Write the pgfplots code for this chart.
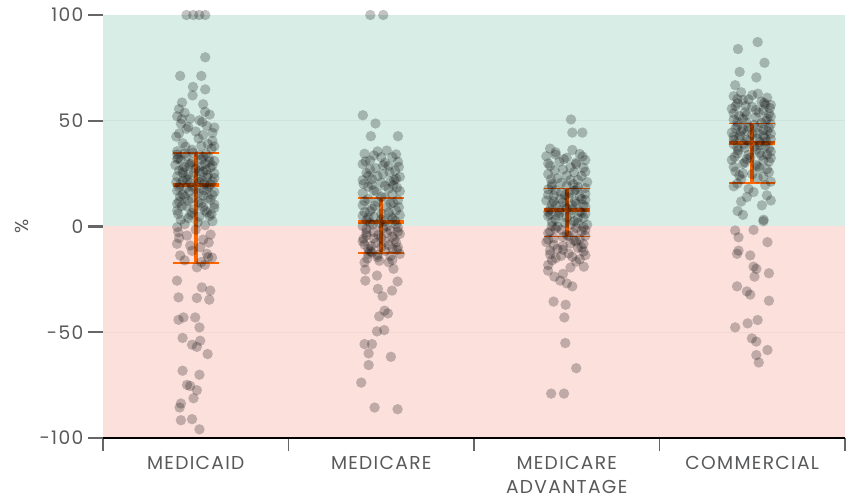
\documentclass[border=0pt]{standalone}
\usepackage{fontspec}
\setmainfont{Poppins}
\newfontfamily\labelfont[LetterSpace=7]{Poppins}
\usepackage{pgfplots}
\pgfplotsset{compat=1.18}
\definecolor{bggreen}{RGB}{215,237,230}
\definecolor{bgpink}{RGB}{252,224,220}
\definecolor{barorange}{RGB}{255,102,0}
\definecolor{txtgray}{RGB}{88,89,91}
\definecolor{tickgray}{RGB}{102,102,102}
\begin{document}
\begin{tikzpicture}
\begin{axis}[
  scale only axis,
  width=556.5pt, height=317.25pt,
  xmin=-0.5, xmax=3.5, ymin=-100, ymax=100,
  clip=false, axis on top,
  axis lines*=left,
  y axis line style={draw=none},
  x axis line style={black, line width=2pt},
  tick align=outside,
  xtick={0,1,2,3},
  xticklabels={MEDICAID,MEDICARE,{MEDICARE\\ADVANTAGE},COMMERCIAL},
  minor xtick={-0.5,0.5,1.5,2.5,3.5},
  major x tick style={draw=none},
  minor x tick style={tickgray, line width=0.8pt},
  minor tick length=9.75pt,
  major tick length=11.25pt,
  major y tick style={tickgray, line width=1.6pt},
  ytick={-100,-50,0,50,100},
  yticklabels={-100,-50,0,50,100},
  yticklabel style={font=\labelfont\fontsize{14}{16}\selectfont, text=txtgray},
  xticklabel style={font=\labelfont\fontsize{14}{18}\selectfont, text=txtgray, align=center, anchor=north, yshift=1pt},
  ylabel={\%},
  ylabel style={at={(axis description cs:-0.109,0.5)}, anchor=center, font=\fontsize{14}{16}\selectfont, text=txtgray},
]
% backgrounds
\addplot[no markers, fill=bggreen, draw=none] coordinates {(-0.5,100) (3.5,100)} \closedcycle;
\addplot[no markers, fill=bgpink, draw=none] coordinates {(-0.5,-100) (3.5,-100)} \closedcycle;
\addplot[no markers, black, opacity=0.04, line width=1pt] coordinates {(-0.5,50) (3.5,50)};
\addplot[no markers, black, opacity=0.04, line width=1pt] coordinates {(-0.5,-50) (3.5,-50)};
% points
\addplot[only marks, mark=*, mark size=3.9pt, color=black, mark options={solid, fill=black, fill opacity=0.24, draw opacity=0}] coordinates {
% MEDICAID
(-0.05,100) (-0.013,100) (0.019,100) (0.051,100)
(0.051,80.0) (-0.084,71.2) (0.03,71.2) (-0.015,66) (0.051,64.8) (-0.017,62) (-0.074,58.6) (0.04,57.8)
(-0.09,55.5) (-0.06,53.8) (0.05,54.2) (-0.10,52.1) (0.075,52.9) (-0.03,51) (0.02,50.2) (-0.08,48.6) (0.06,47.5) (-0.05,46.2) (0.1,46.8) (0.0,44.9) (-0.09,44) (0.04,43.2) (0.09,40.5) (-0.07,39.4) (0.03,38.2) (-0.02,36.3) (0.085,36.8) (-0.10,35.6)
(-0.1,34.1) (-0.05,33.2) (0.02,33.8) (0.07,32.6) (-0.08,31.5) (0.1,31) (-0.02,30.4) (0.05,29.7) (-0.11,29.1) (-0.06,28.2) (0.08,27.9) (0.0,27.3) (-0.09,26.4) (0.04,25.8) (0.1,25.1) (-0.04,24.6) (-0.1,23.7) (0.06,23.2) (0.01,22.5) (-0.07,21.8) (0.09,21.3) (-0.03,20.6) (0.045,20.1) (-0.085,19.8)
(0.07,19.0) (-0.05,18.2) (0.0,17.6) (-0.1,16.9) (0.1,16.3) (-0.07,15.2) (0.04,14.6) (-0.02,13.3) (0.08,12.7) (-0.09,11.8) (0.03,10.9) (-0.05,9.6) (0.1,8.8) (-0.1,7.5) (0.06,6.7) (-0.03,5.4) (0.02,4.6) (-0.08,3.2) (0.09,2.5) (-0.06,1.1) (0.05,0.6)
(-0.1,-0.3) (0.0,-1.5) (-0.094,-2.7) (-0.047,-4.3) (0.08,-3.8) (0.04,-6.2) (-0.101,-8.2) (-0.03,-9.0) (0.024,-9.8) (0.06,-12.9) (-0.084,-13.7) (0.067,-14.5) (0.088,-14.7) (-0.06,-16.0) (0.03,-16.8)
(-0.075,50.8) (0.035,49.4) (-0.04,47.1) (0.09,44.3) (-0.105,42.5) (0.015,41.6) (0.065,39.0) (-0.055,37.8) (0.1,37.9) (-0.015,34.9) (0.055,34.4) (-0.095,32.3) (0.03,31.7) (-0.035,29.0) (0.09,28.8) (-0.07,27.0) (0.02,26.1) (0.065,24.4) (-0.055,22.9) (0.035,21.7) (-0.105,20.9) (0.08,19.9) (-0.02,18.9) (0.045,17.2) (-0.085,14.2) (0.065,13.6) (-0.04,12.1) (0.015,11.5) (0.1,10.4) (-0.075,9.7) (-0.01,8.1) (0.05,7.6) (-0.095,5.9) (0.075,4.9) (-0.04,3.9) (0.01,2.0) (-0.09,-5.5) (0.07,-7.6) (-0.02,-11.5) (0.05,-18.1)
(-0.06,34.5) (0.04,33.0) (-0.1,31.9) (0.075,30.7) (-0.03,29.6) (0.03,28.5) (-0.07,25.5) (0.055,26.7) (-0.01,25.3) (0.1,22.9) (-0.045,22.2) (0.02,21.1) (-0.09,18.6) (0.06,17.9) (-0.035,16.5) (0.015,15.8) (-0.06,14.0) (0.09,14.9) (-0.1,10.8) (0.04,9.2) (-0.02,6.4) (0.085,5.9)
(0.006,-19.3) (-0.101,-25.6) (0.033,-28.8) (0.078,-30.3) (-0.093,-33.5) (0.006,-33.8) (0.073,-34.6) (-0.093,-44.1) (-0.066,-43) (-0.003,-43) (0.02,-47.7) (-0.071,-52.7) (-0.02,-55.9) (0.024,-54) (0.006,-56.9) (0.064,-60.3) (-0.071,-68.2) (0.02,-70.1) (-0.047,-74.9) (-0.03,-75.4) (0.006,-77.4) (-0.012,-81.2) (-0.08,-83.7) (-0.087,-85.6) (-0.08,-91.6) (-0.02,-91.1) (0.02,-95.9)
% MEDICARE
(0.941,100) (1.011,100) (0.901,52.6) (0.969,48.7) (0.944,42.7) (1.09,42.7)
(0.98,35.5) (1.03,35.9) (0.91,34.4) (1.08,34.1) (1.0,32.8) (0.94,31.2) (1.09,30.6) (0.9,29.5) (1.04,28.7) (0.97,27.6) (1.075,26.4) (0.92,25.3) (1.01,24.8) (1.1,23.5) (0.95,22.4) (1.05,21.3) (0.905,20.1) (1.02,19.2) (1.085,18.4) (0.96,17.1) (0.9,15.8) (1.06,15.2) (1.0,14.1)
(0.93,13.0) (1.09,12.4) (0.98,11.6) (1.05,10.8) (0.9,10.1) (1.03,9.2) (0.95,8.4) (1.08,7.6) (0.91,6.8) (1.0,6.1) (1.1,5.3) (0.96,4.5) (1.06,3.8) (0.92,2.9) (1.02,2.4)
(0.94,1.6) (1.08,1.0) (0.9,0.2) (1.01,-0.8) (1.05,-1.9) (0.96,-2.6) (1.1,-3.5) (0.92,-4.2) (1.0,-5.3) (1.07,-6.1) (0.9,-7.0) (0.97,-7.9) (1.04,-8.8) (1.09,-9.9) (0.93,-10.6) (1.02,-11.5) (0.95,-12.2)
(0.96,33.6) (1.06,32.9) (0.915,30.8) (1.02,30.1) (1.095,28.2) (0.94,26.9) (1.045,25.7) (0.98,23.8) (1.08,22.6) (0.9,21.9) (1.0,20.7) (1.065,19.6) (0.93,18.8) (1.04,17.9) (0.975,16.4) (1.1,16.7) (1.02,13.7) (0.91,12.0) (1.065,11.3) (0.965,9.8) (1.095,9.1) (0.94,7.2) (1.04,6.6) (0.9,5.0) (1.0,3.4) (1.075,2.7) (0.955,0.9) (1.03,0.1) (0.92,-1.2) (1.09,-2.4) (0.985,-3.9) (1.06,-4.8) (0.905,-5.8) (1.02,-7.1) (0.945,-9.3) (1.085,-11.0) (0.98,-13.4) (1.05,-13.9) (0.925,-15.1)
(0.93,4.1) (1.05,4.8) (0.99,1.5) (1.09,-0.5) (0.92,-2.9) (1.03,-3.0) (0.96,-5.6) (1.08,-7.5) (0.91,-8.6) (1.0,-9.6) (1.06,-10.4) (0.94,-11.7) (1.1,-13.0) (0.99,-16.2) (0.93,-12.9) (1.04,-16.9) (1.07,22.0) (0.95,19.8) (1.01,28.9) (0.93,24.0)
(0.98,-14.5) (1.06,-15.8) (0.91,-17.0)
(0.914,-20.4) (0.914,-25.6) (0.977,-23.2) (1.066,-20) (1.088,-26) (0.982,-29.5) (1.058,-30.3) (1.007,-33) (1.018,-39.8) (0.989,-42.5) (1.036,-41.1) (0.977,-49.6) (1.016,-49) (0.91,-55.6) (0.95,-55.6) (0.932,-60) (1.052,-61.6) (0.932,-65.5) (0.892,-73.8) (0.964,-85.6) (1.088,-86.4)
% MEDICARE ADVANTAGE
(2.023,50.6) (2.03,44.4) (2.084,44.4)
(1.91,36.8) (2.03,36.2) (1.94,35.1) (2.07,34.3) (1.89,33.2) (2.0,32.5) (2.1,31.4) (1.96,30.6) (2.05,29.5) (1.91,28.7) (2.09,27.8) (1.98,26.9) (2.04,25.7) (1.9,24.8) (2.08,23.9) (1.95,22.8) (2.02,21.9) (2.11,21.0) (1.92,20.1) (2.0,19.3) (2.06,18.6)
(1.9,17.6) (2.04,16.9) (1.97,16.1) (2.1,15.4) (1.93,14.6) (2.01,13.8) (2.08,13.0) (1.89,12.3) (1.98,11.5) (2.05,10.8) (1.94,10.0) (2.1,9.3) (2.0,8.6) (1.91,8.0)
(2.07,7.1) (1.96,6.4) (2.02,5.6) (1.9,4.9) (2.09,4.1) (1.94,3.3) (2.04,2.5) (1.99,1.7) (2.11,0.9) (1.92,0.2) (2.05,-0.7) (1.97,-1.5) (2.08,-2.3) (1.9,-3.1) (2.0,-3.9) (2.1,-4.4)
(1.94,34.0) (2.085,33.1) (1.985,31.8) (2.05,30.2) (1.9,29.8) (2.02,28.0) (1.935,26.5) (2.1,25.9) (2.0,24.1) (1.915,22.3) (2.06,22.0) (1.97,20.7) (2.035,19.9) (2.1,18.2) (1.94,17.1) (2.015,15.9) (1.9,15.0) (2.07,14.3) (1.965,13.1) (2.045,12.0) (1.92,10.6) (2.09,10.2) (1.99,9.6) (2.03,7.9) (1.9,7.0) (2.1,6.0) (1.955,5.2) (2.06,3.8) (1.92,2.1) (2.02,1.0) (2.09,-0.3) (1.94,-1.0) (2.035,-2.8) (1.98,-4.9) (2.07,-5.9) (1.9,-6.2) (2.02,-8.0) (1.95,-10.6) (2.09,-11.8) (1.97,-13.9) (2.07,-15.5) (1.92,-16.0)
(1.92,18.9) (2.05,17.4) (1.99,14.9) (2.1,12.6) (1.93,11.9) (2.03,9.9) (1.96,7.5) (2.08,6.5) (1.91,5.7) (2.0,4.3) (2.06,1.6) (1.95,-0.1) (2.1,-1.7) (1.91,-2.4) (2.01,-4.4) (2.05,-7.1) (1.93,-8.8) (2.08,-9.9) (1.98,-11.0) (1.91,-13.2) (2.03,-14.3)
(1.93,-5.5) (2.04,-6.6) (1.89,-7.4) (2.09,-8.3) (1.98,-9.2) (2.06,-10.1) (1.91,-11.4) (2.01,-12.8) (2.1,-13.6) (1.94,-15.0) (2.05,-16.6) (1.9,-18.2) (2.02,-19.4) (2.092,-19) (1.899,-20.9) (1.933,-23.7) (1.965,-25.6) (2.0,-26.9) (1.98,-22.4) (2.03,-28.3)
(1.929,-35.5) (1.994,-37) (1.987,-43) (1.992,-55.1) (2.051,-67) (1.916,-79) (1.985,-79)
% COMMERCIAL
(3.029,87.2) (2.923,83.9) (3.066,77.4) (2.932,73.1) (3.022,70.5) (2.908,66.8)
(2.94,63.5) (3.03,62.8) (2.9,61.6) (3.08,60.9) (2.98,60.1) (3.05,59.0) (2.92,58.2) (3.1,57.5) (3.0,56.6) (2.89,55.7) (3.06,54.9) (2.96,54.0) (3.09,53.2) (2.93,52.3) (3.02,51.5) (2.9,50.6) (3.07,49.9) (2.97,49.1)
(3.1,48.4) (2.92,47.6) (3.03,46.8) (2.95,46.0) (3.08,45.2) (2.89,44.4) (3.0,43.6) (3.06,42.8) (2.93,42.0) (3.1,41.2) (2.98,40.4) (3.04,39.9)
(2.9,38.9) (3.07,38.1) (2.96,37.2) (3.02,36.3) (3.1,35.4) (2.92,34.5) (3.05,33.5) (2.99,32.6) (2.89,31.5) (3.09,30.7) (2.95,29.6) (3.03,28.4) (3.08,27.1) (2.91,26.0) (3.0,24.8) (3.06,23.5) (2.94,22.3) (3.1,21.2)
(3.0,62.1) (2.92,60.3) (3.065,58.5) (2.965,57.1) (3.095,56.0) (2.9,53.5) (3.035,53.9) (2.95,51.0) (3.08,50.9) (3.01,48.0) (2.91,46.4) (3.06,45.7) (2.975,44.9) (3.1,43.9) (2.935,43.0) (3.025,41.7) (2.9,40.9) (3.075,40.2) (2.955,39.0) (3.01,37.8) (3.09,36.9) (2.925,36.1) (3.04,34.9) (2.98,33.9) (3.1,32.4) (2.905,32.9) (3.06,31.3) (2.96,30.3) (3.02,29.1) (2.9,28.2) (3.09,25.6) (2.95,25.1) (3.03,22.9) (2.92,20.3) (3.07,19.6) (2.98,17.8) (3.1,12.3) (2.94,11.8)
(2.95,59.8) (3.07,57.6) (2.91,56.9) (3.02,55.1) (2.97,52.7) (3.1,52.0) (2.92,49.4) (3.05,48.9) (2.98,47.0) (3.09,46.5) (2.94,45.0) (3.03,44.0) (2.9,42.5) (3.07,41.8) (2.97,41.0) (3.04,38.4) (2.92,37.3) (3.08,34.0) (2.97,31.9) (3.04,27.5) (2.93,24.2)
(2.9,19) (2.971,13.9) (3.007,16.3) (3.079,14.7) (3.052,10) (2.921,7.3) (2.95,5.5) (3.061,3.2) (3.06,2.5)
(2.908,-1.9) (3.007,-1.6) (2.926,-5.1) (3.082,-7.4) (2.926,-11.4) (2.918,-12.9) (2.989,-13.7) (3.007,-19) (3.022,-20) (3.012,-23.7) (3.09,-22.1) (2.918,-28.3) (2.971,-30.7) (2.989,-32.2) (3.09,-35.1) (2.908,-47.7) (2.975,-45.8) (3.029,-44.2) (2.998,-52.9) (3.022,-54.4) (3.082,-58.4) (3.022,-60.8) (3.035,-64.3)
};
% error bars: Q1, median, Q3
\pgfplotsset{errbar/.style={no markers, draw=barorange, opacity=1, line width=3pt}, errcap/.style={no markers, draw=barorange, opacity=1, line width=1.3pt}}
% MEDICAID
\addplot[errbar] coordinates {(0,-17.2) (0,34.7)};
\addplot[errbar] coordinates {(-0.124,19.4) (0.124,19.4)};
\addplot[errcap] coordinates {(-0.124,34.7) (0.124,34.7)};
\addplot[errcap] coordinates {(-0.124,-17.2) (0.124,-17.2)};
% MEDICARE
\addplot[errbar] coordinates {(1,-12.6) (1,13.4)};
\addplot[errbar] coordinates {(0.876,2.0) (1.124,2.0)};
\addplot[errcap] coordinates {(0.876,13.4) (1.124,13.4)};
\addplot[errcap] coordinates {(0.876,-12.6) (1.124,-12.6)};
% MEDICARE ADVANTAGE
\addplot[errbar] coordinates {(2,-4.7) (2,18)};
\addplot[errbar] coordinates {(1.876,7.6) (2.124,7.6)};
\addplot[errcap] coordinates {(1.876,18) (2.124,18)};
\addplot[errcap] coordinates {(1.876,-4.7) (2.124,-4.7)};
% COMMERCIAL
\addplot[errbar] coordinates {(3,20.7) (3,48.7)};
\addplot[errbar] coordinates {(2.876,39.5) (3.124,39.5)};
\addplot[errcap] coordinates {(2.876,48.7) (3.124,48.7)};
\addplot[errcap] coordinates {(2.876,20.7) (3.124,20.7)};
\end{axis}
\pgfresetboundingbox
\path (current axis.south west) ++(-77.25pt,-45.75pt) rectangle ([xshift=1.5pt,yshift=11.25pt]current axis.north east);
\end{tikzpicture}
\end{document}
